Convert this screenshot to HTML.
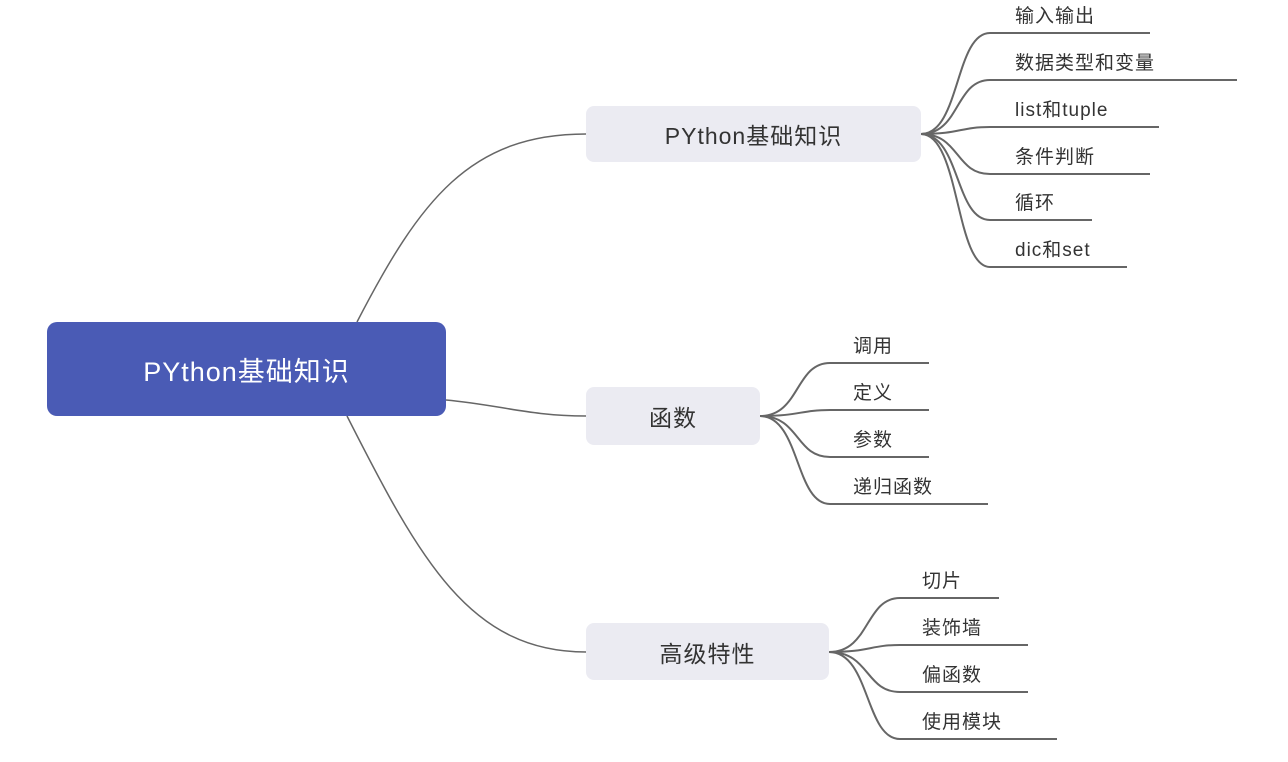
<!DOCTYPE html>
<html><head><meta charset="utf-8"><style>
html,body{margin:0;padding:0;background:#fff;}
body{width:1288px;height:762px;position:relative;overflow:hidden;font-family:"Liberation Sans","Noto Sans CJK SC",sans-serif;}
.t{position:absolute;color:#333;font-size:19px;line-height:22px;white-space:nowrap;letter-spacing:1px;}
.b{position:absolute;background:#ebebf2;border-radius:8px;color:#333;font-size:23px;display:flex;align-items:center;justify-content:center;letter-spacing:1px;}
</style></head><body>
<svg width="1288" height="762" style="position:absolute;left:0;top:0" fill="none" stroke="#666" stroke-width="2">
<path d="M357,322 C420,200 470,134 586,134" stroke-width="1.5"/>
<path d="M446,400 C500,405 530,416 586,416" stroke-width="1.5"/>
<path d="M347,416 C420,560 470,652 586,652" stroke-width="1.5"/>
<g>
<path d="M921,134 C960,134 955,33 990,33 L1150,33"/>
<path d="M921,134 C960,134 955,80 990,80 L1237,80"/>
<path d="M921,134 C960,134 960,127 990,127 L1159,127"/>
<path d="M921,134 C960,134 955,174 990,174 L1150,174"/>
<path d="M921,134 C960,134 955,220 990,220 L1092,220"/>
<path d="M921,134 C960,134 955,267 990,267 L1127,267"/>
<path d="M760,416 C800,416 795,363 830,363 L929,363"/>
<path d="M760,416 C800,416 800,410 830,410 L929,410"/>
<path d="M760,416 C800,416 795,457 830,457 L929,457"/>
<path d="M760,416 C800,416 795,504 830,504 L988,504"/>
<path d="M829,652 C870,652 865,598 900,598 L999,598"/>
<path d="M829,652 C870,652 870,645 900,645 L1028,645"/>
<path d="M829,652 C870,652 865,692 900,692 L1028,692"/>
<path d="M829,652 C870,652 865,739 900,739 L1057,739"/>
</g>
</svg>
<div style="position:absolute;left:47px;top:322px;width:399px;height:94px;background:#4a5bb5;border-radius:10px;color:#fff;font-size:27px;display:flex;align-items:center;justify-content:center;letter-spacing:1px;">PYthon基础知识</div>
<div class="b" style="left:586px;top:106px;width:335px;height:56px;">PYthon基础知识</div>
<div class="b" style="left:586px;top:387px;width:174px;height:58px;">函数</div>
<div class="b" style="left:586px;top:623px;width:243px;height:57px;">高级特性</div>
<div class="t" style="left:1015px;top:6px">输入输出</div>
<div class="t" style="left:1015px;top:53px">数据类型和变量</div>
<div class="t" style="left:1015px;top:100px">list和tuple</div>
<div class="t" style="left:1015px;top:147px">条件判断</div>
<div class="t" style="left:1015px;top:193px">循环</div>
<div class="t" style="left:1015px;top:240px">dic和set</div>
<div class="t" style="left:853px;top:336px">调用</div>
<div class="t" style="left:853px;top:383px">定义</div>
<div class="t" style="left:853px;top:430px">参数</div>
<div class="t" style="left:853px;top:477px">递归函数</div>
<div class="t" style="left:922px;top:571px">切片</div>
<div class="t" style="left:922px;top:618px">装饰墙</div>
<div class="t" style="left:922px;top:665px">偏函数</div>
<div class="t" style="left:922px;top:712px">使用模块</div>
</body></html>
